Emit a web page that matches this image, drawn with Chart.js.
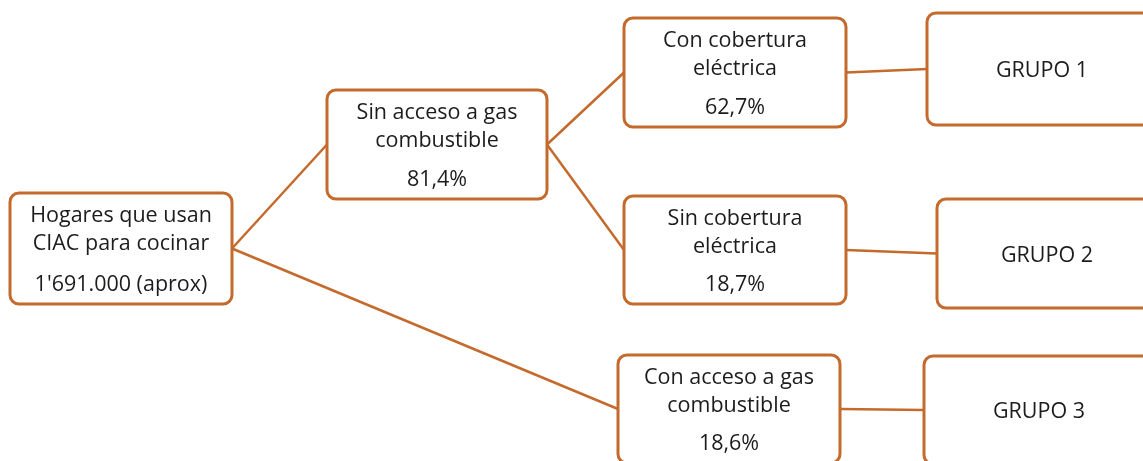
<!DOCTYPE html>
<html>
<head>
<meta charset="utf-8">
<script src="https://cdn.jsdelivr.net/npm/chart.js@4"></script>
<style>
  body { margin: 0; background: #fff; }
</style>
</head>
<body>
<canvas id="tree" width="1143" height="461"></canvas>
<script>
// node texts
const nodeLabels = [
  ['Hogares que usan', 'CIAC para cocinar'],
  ['Sin acceso a gas', 'combustible'],
  ['Con cobertura', 'eléctrica'],
  ['Sin cobertura', 'eléctrica'],
  ['Con acceso a gas', 'combustible'],
  ['GRUPO 1'],
  ['GRUPO 2'],
  ['GRUPO 3']
];
const nodeValues = ["1'691.000 (aprox)", '81,4%', '62,7%', '18,7%', '18,6%', '', '', ''];
const nodeParents = [-1, 0, 1, 1, 0, 2, 3, 4];

// box layout [left, top, width, height] in chart units
const layout = [
  [10, 193, 222, 111],
  [327, 90, 220, 109],
  [624, 18, 222, 109],
  [624, 196, 222, 108],
  [618, 355, 222, 108],
  [927, 13, 230, 112],
  [937, 199, 220, 109],
  [924, 356, 230, 108]
];

const orange = '#c46a2c';

// connector segments from parent right-mid to child left-mid
const links = [];
nodeParents.forEach((p, i) => {
  if (p < 0) return;
  const a = layout[p], b = layout[i];
  links.push({
    label: 'link' + i,
    data: [
      { x: a[0] + a[2], y: a[1] + a[3] / 2 },
      { x: b[0], y: b[1] + b[3] / 2 }
    ],
    showLine: true,
    borderColor: orange,
    borderWidth: 2.5,
    pointRadius: 0
  });
});

const boxPlugin = {
  id: 'boxes',
  afterDatasetsDraw(chart) {
    const ctx = chart.ctx;
    const xs = chart.scales.x, ys = chart.scales.y;
    ctx.save();
    layout.forEach((b, i) => {
      const x0 = xs.getPixelForValue(b[0]);
      const x1 = xs.getPixelForValue(b[0] + b[2]);
      const y0 = ys.getPixelForValue(b[1]);
      const y1 = ys.getPixelForValue(b[1] + b[3]);
      ctx.beginPath();
      ctx.roundRect(x0, y0, x1 - x0, y1 - y0, 9);
      ctx.fillStyle = '#fff';
      ctx.fill();
      ctx.lineWidth = 3;
      ctx.strokeStyle = orange;
      ctx.stroke();

      ctx.fillStyle = '#1c1c1c';
      ctx.font = '21.5px "Open Sans", sans-serif';
      ctx.textAlign = 'center';
      ctx.textBaseline = 'middle';
      const cx = (x0 + x1) / 2;
      const lines = nodeLabels[i];
      if (nodeValues[i]) {
        lines.forEach((t, k) => ctx.fillText(t, cx, y0 + 23 + k * 28));
        ctx.fillText(nodeValues[i], cx, y1 - 19);
      } else {
        ctx.fillText(lines[0], cx, (y0 + y1) / 2 + 2);
      }
    });
    ctx.restore();
  }
};

new Chart(document.getElementById('tree'), {
  type: 'scatter',
  data: { datasets: links },
  options: {
    responsive: false,
    animation: false,
    layout: { padding: 0 },
    plugins: { legend: { display: false }, tooltip: { enabled: false } },
    scales: {
      x: { type: 'linear', min: 0, max: 1143, display: false },
      y: { type: 'linear', min: 0, max: 461, reverse: true, display: false }
    }
  },
  plugins: [boxPlugin]
});
</script>
</body>
</html>
